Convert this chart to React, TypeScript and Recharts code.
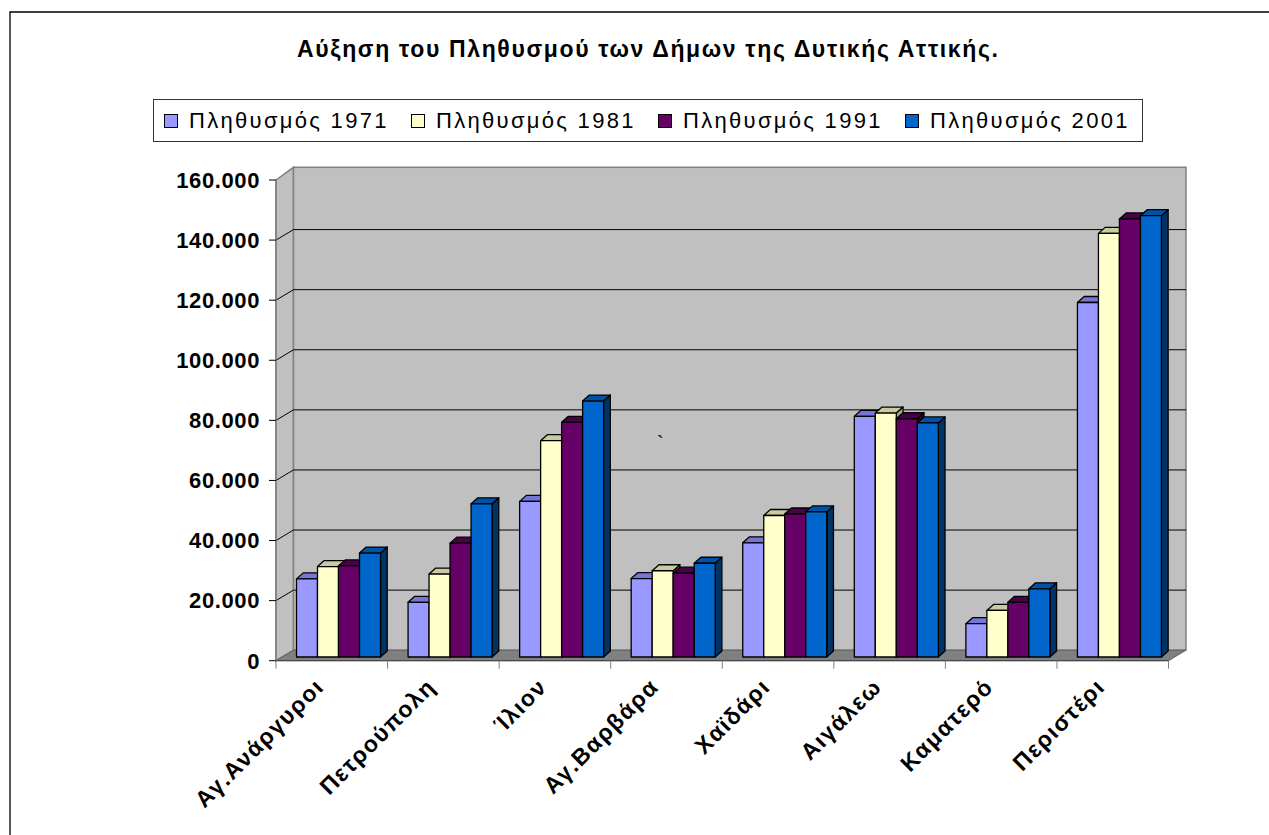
import { BarChart, Bar, XAxis, YAxis, CartesianGrid, Legend } from 'recharts';

// Δήμοι Δυτικής Αττικής
const categories = ['Αγ.Ανάργυροι', 'Πετρούπολη', 'Ίλιον', 'Αγ.Βαρβάρα', 'Χαϊδάρι', 'Αιγάλεω', 'Καματερό', 'Περιστέρι'];

const pop1971 = [26000, 18200, 51800, 26100, 38000, 80100, 11100, 118000];
const pop1981 = [30100, 27600, 72000, 28700, 47100, 81200, 15500, 141000];
const pop1991 = [30300, 37900, 78100, 27900, 47600, 79300, 18200, 145800];
const pop2001 = [34600, 51000, 85200, 31200, 48300, 77900, 22700, 146900];

const yTicks = [0, 20000, 40000, 60000, 80000, 100000, 120000, 140000, 160000];

const SERIES = [
  { key: 'p1971', name: 'Πληθυσμός 1971', fill: '#9999FF', top: '#7676D6', side: '#5A5AB0' },
  { key: 'p1981', name: 'Πληθυσμός 1981', fill: '#FFFFCC', top: '#CACA9E', side: '#A8A880' },
  { key: 'p1991', name: 'Πληθυσμός 1991', fill: '#660066', top: '#4A004A', side: '#330033' },
  { key: 'p2001', name: 'Πληθυσμός 2001', fill: '#0066CC', top: '#0052A6', side: '#003366' },
];

const data = categories.map((name, i) => ({
  name,
  p1971: pop1971[i],
  p1981: pop1981[i],
  p1991: pop1991[i],
  p2001: pop2001[i],
}));

const W = 1269;
const H = 835;
const LEFT = 276;
const RIGHT = 1168.5;
const TOP = 180;
const BOTTOM = 660.7;
const DX = 17.5; // depth of the walls
const DY = -10.5;
const BAND = (RIGHT - LEFT) / categories.length;
const FONT = "'Liberation Sans', Arial, sans-serif";

const fmt = (v: number) => String(v).replace(/\B(?=(\d{3})+(?!\d))/g, '.');

function Bar3D(props: any) {
  const { x, y, width, height, fill, top, side } = props;
  if (!height || height <= 0) return null;
  const bx = x + 6;
  const by = y - 3.7;
  const dx = 6.7;
  const dy = -6;
  const w = width;
  const h = height;
  return (
    <g stroke="#000" strokeWidth={1.3} strokeLinejoin="round">
      <polygon
        points={`${bx + w},${by} ${bx + w + dx},${by + dy} ${bx + w + dx},${by + h + dy} ${bx + w},${by + h}`}
        fill={side}
      />
      <polygon
        points={`${bx},${by} ${bx + w},${by} ${bx + w + dx},${by + dy} ${bx + dx},${by + dy}`}
        fill={top}
      />
      <rect x={bx} y={by} width={w} height={h} fill={fill} />
    </g>
  );
}

function GridLine(props: any) {
  const { x1, x2, y1 } = props;
  if (Math.abs(y1 - TOP) < 1 || Math.abs(y1 - BOTTOM) < 1) return <g key={props.key} />;
  return (
    <polyline
      key={props.key}
      points={`${x1},${y1} ${x1 + DX},${y1 + DY} ${x2 + DX},${y1 + DY}`}
      fill="none"
      stroke="#000"
      strokeWidth={1}
    />
  );
}

function CatTick(props: any) {
  const { x, payload } = props;
  const tx = x - 18;
  const ty = BOTTOM + 16;
  return (
    <g>
      <line x1={x - BAND / 2} y1={BOTTOM} x2={x - BAND / 2} y2={BOTTOM + 8} stroke="#808080" />
      <text
        x={tx}
        y={ty}
        dy="0.71em"
        transform={`rotate(-45 ${tx} ${ty})`}
        textAnchor="end"
        fontFamily={FONT}
        fontSize={23}
        fontWeight="bold"
        letterSpacing={1.5}
        fill="#000"
      >
        {payload.value}
      </text>
    </g>
  );
}

function LegendBox(props: any) {
  const items = props.payload && props.payload.length ? props.payload : SERIES.map((s) => ({ value: s.name, color: s.fill }));
  return (
    <div
      style={{
        position: 'relative',
        width: 990,
        height: 43,
        boxSizing: 'border-box',
        border: '1px solid #333',
        background: '#fff',
        fontFamily: FONT,
      }}
    >
      {items.map((it: any, i: number) => (
        <div
          key={i}
          style={{ position: 'absolute', left: 10 + i * 247, top: 0, height: 41, display: 'flex', alignItems: 'center' }}
        >
          <span
            style={{
              display: 'inline-block',
              width: 12,
              height: 12,
              border: '1.5px solid #000',
              background: it.color,
              marginRight: 11,
            }}
          />
          <span style={{ fontSize: 22, letterSpacing: 2.3, color: '#000', whiteSpace: 'nowrap' }}>{it.value}</span>
        </div>
      ))}
    </div>
  );
}

export default function App() {
  const wallTop = TOP - 12.7;
  return (
    <div style={{ position: 'absolute', left: 0, top: 0, width: W, height: H, background: '#fff' }}>
      <svg width={W} height={H} style={{ position: 'absolute', left: 0, top: 0 }}>
        <path d={`M10,${H + 10} V12 H${W + 10}`} fill="none" stroke="#000" strokeWidth={1.3} />
        <text
          x={647.5}
          y={57}
          textAnchor="middle"
          fontFamily={FONT}
          fontSize={23}
          fontWeight="bold"
          textLength={701}
          lengthAdjust="spacing"
        >
          Αύξηση του Πληθυσμού των Δήμων της Δυτικής Αττικής.
        </text>
        <polygon
          points={`${LEFT},${TOP} ${LEFT + DX},${wallTop} ${LEFT + DX},${BOTTOM + DY} ${LEFT},${BOTTOM}`}
          fill="#C0C0C0"
          stroke="#808080"
          strokeWidth={1.5}
        />
        <rect
          x={LEFT + DX}
          y={wallTop}
          width={RIGHT - LEFT}
          height={BOTTOM + DY - wallTop}
          fill="#C0C0C0"
          stroke="#808080"
          strokeWidth={1.5}
        />
        <polygon
          points={`${LEFT},${BOTTOM} ${RIGHT},${BOTTOM} ${RIGHT + DX},${BOTTOM + DY} ${LEFT + DX},${BOTTOM + DY}`}
          fill="#808080"
          stroke="#606060"
        />
        <line x1={RIGHT} y1={BOTTOM} x2={RIGHT} y2={BOTTOM + 8} stroke="#808080" />
        <text x={657} y={450} fontFamily={FONT} fontSize={20} fill="#000">
          `
        </text>
      </svg>
      <div style={{ position: 'absolute', left: 0, top: 0 }}>
        <BarChart
          width={W}
          height={H}
          data={data}
          margin={{ top: TOP, right: W - RIGHT, bottom: 0, left: 0 }}
          barGap={0}
          barCategoryGap="13%"
        >
          <CartesianGrid vertical={false} horizontal={(p: any) => <GridLine {...p} />} />
          <XAxis
            dataKey="name"
            height={H - BOTTOM}
            interval={0}
            tickLine={false}
            axisLine={{ stroke: '#404040' }}
            tick={(p: any) => <CatTick {...p} />}
          />
          <YAxis
            width={LEFT}
            domain={[0, 160000]}
            ticks={yTicks}
            interval={0}
            tickFormatter={fmt}
            tickSize={7}
            tickMargin={9}
            axisLine={{ stroke: '#808080', strokeWidth: 1.5 }}
            tickLine={{ stroke: '#000' }}
            tick={{ fontSize: 22, fontWeight: 'bold', fill: '#000', fontFamily: FONT, letterSpacing: 0.6 }}
          />
          <Legend
            layout="horizontal"
            verticalAlign="middle"
            align="center"
            wrapperStyle={{ position: 'absolute', top: 99, left: 153, width: 990, height: 43 }}
            content={(p: any) => <LegendBox {...p} />}
          />
          {SERIES.map((s) => (
            <Bar
              key={s.key}
              dataKey={s.key}
              name={s.name}
              fill={s.fill}
              isAnimationActive={false}
              shape={(p: any) => <Bar3D {...p} top={s.top} side={s.side} />}
            />
          ))}
        </BarChart>
      </div>
    </div>
  );
}
